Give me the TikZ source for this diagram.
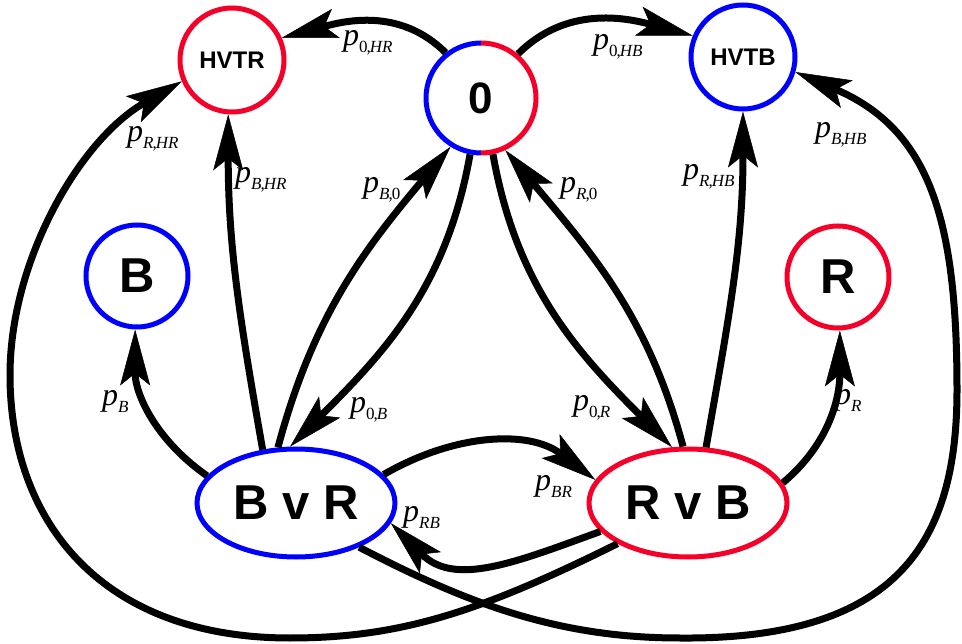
\documentclass[tikz,border=0pt]{standalone}
\usepackage{fontspec}
\setmainfont{Liberation Serif}
\setsansfont{Liberation Sans}
\usetikzlibrary{arrows.meta,shapes.geometric}
\definecolor{nblue}{RGB}{0,0,255}
\definecolor{nred}{RGB}{245,0,40}
\newcommand\plab[1]{\textit{p}\raisebox{-7pt}{\fontsize{17}{17}\selectfont #1}}
\newcommand\cm{\kern-1pt,\kern-1pt}
\begin{document}
\begin{tikzpicture}[x=1pt,y=1pt,
  st/.style={circle, line width=5pt, inner sep=0pt},
  el/.style={ellipse, line width=5pt, minimum width=198pt, minimum height=108pt, inner sep=0pt,
    font=\sffamily\bfseries\fontsize{49}{49}\selectfont},
  hfont/.style={font=\sffamily\bfseries\fontsize{24}{24}\selectfont},
  bfont/.style={font=\sffamily\bfseries\fontsize{49}{49}\selectfont},
  con/.style={line width=7pt, -{Stealth[length=56pt 0 0,width=30pt 0 0,inset=12pt 0 0,line width=0.5pt 0 0]}},
  lab/.style={anchor=base west, inner sep=0pt, font=\fontsize{32}{32}\selectfont}]
\useasboundingbox (0,0) rectangle (962,-644);

% nodes
\node[st, draw=nred, minimum size=104pt, hfont] (HVTR) at (232,-60) {HVTR};
\node[st, draw=nblue, minimum size=104pt, hfont] (HVTB) at (743,-57) {HVTB};
\node[st, minimum size=110pt, font=\sffamily\bfseries\fontsize{44}{44}\selectfont] (Z) at (481,-98) {0};
\draw[nblue, line width=5pt] ([yshift=55pt]Z.center) arc[start angle=90, end angle=270, radius=55pt];
\draw[nred, line width=5pt] ([yshift=-55pt]Z.center) arc[start angle=-90, end angle=90, radius=55pt];
\node[st, draw=nblue, minimum size=102pt, bfont] (B) at (137,-276) {B};
\node[st, draw=nred, minimum size=102pt, bfont] (R) at (838,-277) {R};
\node[el, draw=nblue] (BvR) at (296,-503) {B v R};
\node[el, draw=nred] (RvB) at (688,-503) {R v B};

% connectors
\draw[con] (Z.128) to[out=135,in=15] (HVTR.24);
\draw[con] (Z.50) to[out=45,in=165] (HVTB.157);
\draw[con] (BvR.122) to[out=100,in=-90] (HVTR.266);
\draw[con] (RvB.72) to[out=80,in=-90] (HVTB.270);
\draw[con] (Z.-101) to[out=-100,in=45] (BvR.96);
\draw[con] (BvR.108) to[out=75,in=230] (Z.-122);
\draw[con] (Z.-78) to[out=-80,in=135] (RvB.106);
\draw[con] (RvB.95) to[out=105,in=-50] (Z.-65);
\draw[con] (BvR.163) to[out=145,in=-90] (B.-92);
\draw[con] (RvB.12) to[out=40,in=-90] (R.-88);
\draw[con] (BvR.18) to[out=30,in=143] (RvB.166);
\draw[con] (RvB.198) to[out=200,in=-45,looseness=1.1] (BvR.-12);
\draw[con] (BvR.-35) .. controls (470,-605) and (560,-638) .. (680,-638)
  .. controls (900,-640) and (957,-540) .. (957,-390)
  .. controls (957,-220) and (930,-130) .. (HVTB.-16);
\draw[con] (RvB.210) .. controls (480,-612) and (400,-638) .. (290,-638)
  .. controls (100,-638) and (10,-520) .. (10,-375)
  .. controls (10,-260) and (80,-140) .. (HVTR.203);

% labels
\node[lab] (l0hr) at (343,-46) {\plab{0\cm\textit{HR}}};
\node[lab] (l0hb) at (593,-50) {\plab{0\cm\textit{HB}}};
\node[lab] (lbhr) at (235,-183) {\plab{\textit{B}\cm\textit{HR}}};
\node[lab] (lrhb) at (683,-180) {\plab{\textit{R}\cm\textit{HB}}};
\node[lab] (lb0) at (363,-193) {\plab{\textit{B}\cm0}};
\node[lab] (lr0) at (560,-193) {\plab{\textit{R}\cm0}};
\node[lab] (l0b) at (350,-413) {\plab{0\cm\textit{B}}};
\node[lab] (l0r) at (573,-410) {\plab{0\cm\textit{R}}};
\node[lab] (lb) at (102,-406) {\plab{\textit{B}}};
\node[lab] (lr) at (835,-405) {\plab{\textit{R}}};
\node[lab] (lbr) at (535,-490) {\plab{\textit{BR}}};
\node[lab] (lrb) at (403,-521) {\plab{\textit{RB}}};
\node[lab] (lbhb) at (815,-138) {\plab{\textit{B}\cm\textit{HB}}};
\node[lab] (lrhr) at (127,-142) {\plab{\textit{R}\cm\textit{HR}}};
\end{tikzpicture}
\end{document}
